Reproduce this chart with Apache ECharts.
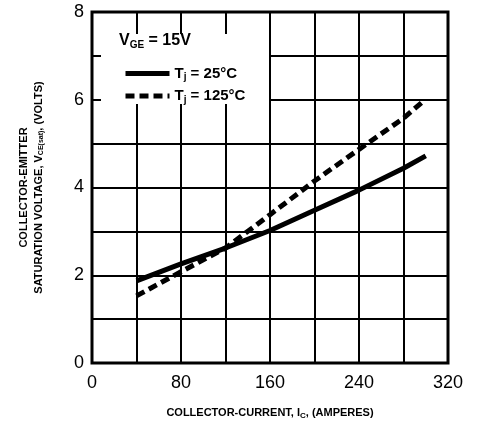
<!DOCTYPE html>
<html>
<head>
<meta charset="utf-8">
<script src="https://cdn.jsdelivr.net/npm/echarts@6/dist/echarts.min.js"></script>
<style>html,body{margin:0;padding:0;background:#fff}#c{width:485px;height:427px}</style>
</head>
<body>
<div id="c"></div>
<script>
// Data
const currentAmps25 = [40, 80, 120, 160, 200, 240, 280, 300];
const vce25 = [1.87, 2.26, 2.62, 3.02, 3.48, 3.94, 4.44, 4.72];
const currentAmps125 = [40, 80, 120, 160, 200, 240, 280, 297];
const vce125 = [1.53, 2.08, 2.62, 3.38, 4.15, 4.87, 5.58, 5.95];
const xTickLabels = [0, 80, 160, 240, 320];
const yTickLabels = [0, 2, 4, 6, 8];
const seriesNames = ['Tj = 25°C', 'Tj = 125°C'];

const pairs = (xs, ys) => xs.map((x, i) => [x, ys[i]]);
const font = 'Liberation Sans, Arial, sans-serif';

const chart = echarts.init(document.getElementById('c'), null, {renderer: 'canvas'});
chart.setOption({
  animation: false,
  backgroundColor: '#fff',
  grid: {left: 92, right: 37, top: 12, bottom: 64, show: true, borderColor: '#000', borderWidth: 3},
  xAxis: {
    type: 'value', min: 0, max: 320, interval: 40,
    axisLine: {show: false}, axisTick: {show: false},
    splitLine: {show: true, lineStyle: {color: '#000', width: 2}},
    axisLabel: {
      margin: 11, color: '#000', fontFamily: font, fontSize: 18,
      formatter: v => xTickLabels.includes(v) ? String(v) : ''
    },
    name: '{a|COLLECTOR-CURRENT, I}{s|C}{a|, (AMPERES)}',
    nameLocation: 'middle', nameGap: 43,
    nameTextStyle: {
      rich: {
        a: {fontFamily: font, fontSize: 11, fontWeight: 'bold', color: '#000'},
        s: {fontFamily: font, fontSize: 8, fontWeight: 'bold', color: '#000', verticalAlign: 'bottom', padding: [6, 0, 0, 0]}
      }
    }
  },
  yAxis: {
    type: 'value', min: 0, max: 8, interval: 1,
    axisLine: {show: false}, axisTick: {show: false},
    splitLine: {show: true, lineStyle: {color: '#000', width: 2}},
    axisLabel: {
      margin: 8, color: '#000', fontFamily: font, fontSize: 18,
      formatter: v => yTickLabels.includes(v) ? String(v) : ''
    },
    name: '{a|COLLECTOR-EMITTER}\n{a|SATURATION VOLTAGE, V}{s|CE(sat)}{a|, (VOLTS)}',
    nameLocation: 'middle', nameGap: 46, nameRotate: 90,
    nameTextStyle: {
      align: 'center', lineHeight: 15,
      rich: {
        a: {fontFamily: font, fontSize: 11, fontWeight: 'bold', color: '#000', lineHeight: 15},
        s: {fontFamily: font, fontSize: 7, fontWeight: 'bold', color: '#000', lineHeight: 15, padding: [5, 0, 0, 0]}
      }
    }
  },
  legend: {
    orient: 'vertical', left: 118, top: 61,
    itemWidth: 44, itemHeight: 14, itemGap: 6,
    data: seriesNames,
    itemStyle: {opacity: 0},
    lineStyle: {width: 5},
    formatter: n => n === seriesNames[0] ? '{a|T}{s|j}{a| = 25°C}' : '{a|T}{s|j}{a| = 125°C}',
    textStyle: {
      rich: {
        a: {fontFamily: font, fontSize: 15, fontWeight: 'bold', color: '#000'},
        s: {fontFamily: font, fontSize: 10, fontWeight: 'bold', color: '#000', padding: [8, 0, 0, 0]}
      }
    }
  },
  graphic: [
    {type: 'rect', z: 3, shape: {x: 101, y: 34, width: 168, height: 70}, style: {fill: '#fff'}},
    {type: 'text', z: 10, left: 119, top: 33, style: {
      text: '{a|V}{s|GE}{a| = 15V}',
      rich: {
        a: {fontFamily: font, fontSize: 16, fontWeight: 'bold', fill: '#000'},
        s: {fontFamily: font, fontSize: 10, fontWeight: 'bold', fill: '#000', padding: [8, 0, 0, 0]}
      }
    }}
  ],
  series: [
    {name: seriesNames[0], type: 'line', data: pairs(currentAmps25, vce25), symbol: 'none', z: 5,
     lineStyle: {color: '#000', width: 5, type: 'solid'}, itemStyle: {color: '#000'}},
    {name: seriesNames[1], type: 'line', data: pairs(currentAmps125, vce125), symbol: 'none', z: 5,
     lineStyle: {color: '#000', width: 5, type: [9, 5]}, itemStyle: {color: '#000'}}
  ]
});
</script>
</body>
</html>
